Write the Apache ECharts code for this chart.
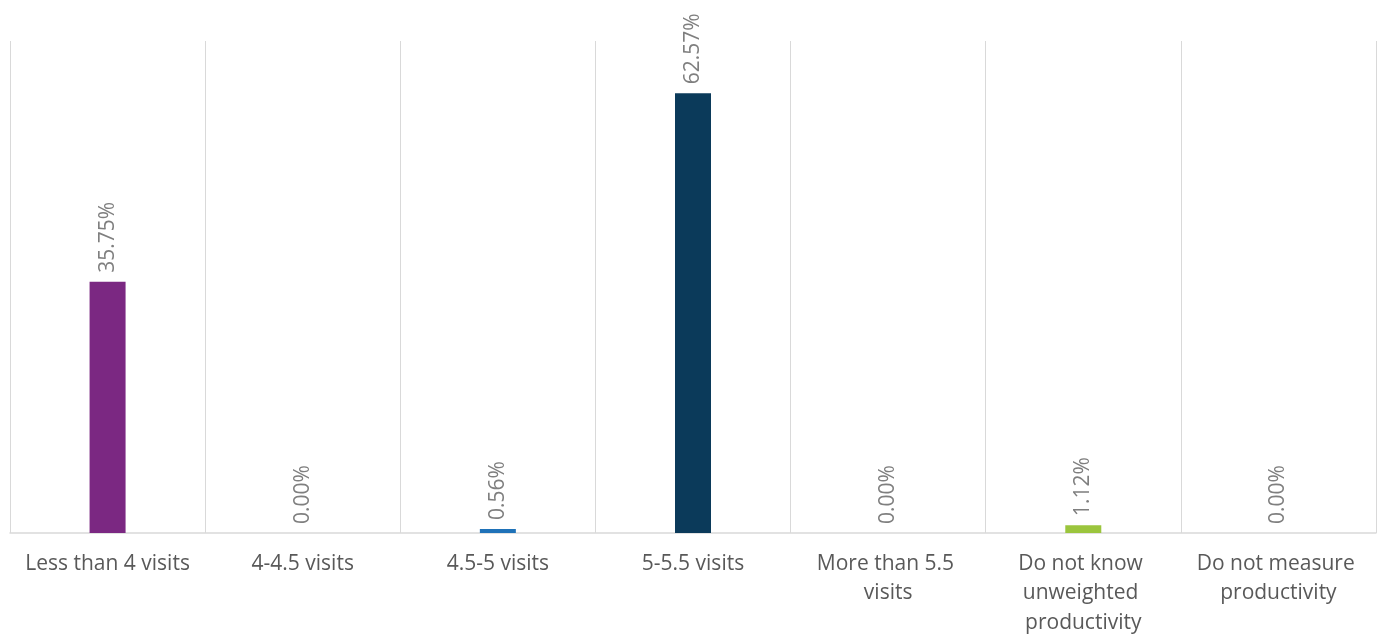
<!DOCTYPE html>
<html>
<head>
<meta charset="utf-8">
<script src="https://cdn.jsdelivr.net/npm/echarts@6/dist/echarts.min.js"></script>
<style>
html,body{margin:0;padding:0;background:#fff;}
#chart{width:1382px;height:634px;}
</style>
</head>
<body>
<div id="chart"></div>
<script>
const categories = ["Less than 4 visits", "4-4.5 visits", "4.5-5 visits", "5-5.5 visits", "More than 5.5 visits", "Do not know unweighted productivity", "Do not measure productivity"];
const values = [35.75, 0.00, 0.56, 62.57, 0.00, 1.12, 0.00];
const barColors = ["#7b2882", "#7b2882", "#1f72b8", "#0b3a5a", "#0b3a5a", "#9bc53d", "#9bc53d"];

const chart = echarts.init(document.getElementById('chart'));
chart.setOption({
  animation: false,
  textStyle: { fontFamily: 'Open Sans' },
  grid: { left: 10, right: 6, top: 41, bottom: 101, containLabel: false, outerBoundsMode: 'none' },
  xAxis: {
    type: 'category',
    data: categories,
    boundaryGap: true,
    axisLine: { lineStyle: { color: '#d9d9d9', width: 1.5 } },
    axisTick: { show: false },
    splitLine: { show: true, lineStyle: { color: '#d9d9d9', width: 1 } },
    axisLabel: {
      interval: 0,
      color: '#595959',
      fontSize: 21,
      fontFamily: 'Open Sans',
      lineHeight: 29.5,
      margin: 16,
      width: 180,
      overflow: 'break'
    }
  },
  yAxis: {
    type: 'value',
    min: 0,
    max: 70,
    show: false,
    splitLine: { show: false }
  },
  series: [{
    type: 'bar',
    data: values.map((v, i) => ({ value: v, itemStyle: { color: barColors[i] } })),
    barWidth: 36,
    label: {
      show: true,
      position: 'top',
      rotate: 90,
      align: 'left',
      verticalAlign: 'middle',
      distance: 9,
      color: '#7f7f7f',
      fontSize: 21,
      fontFamily: 'Open Sans',
      formatter: p => p.value.toFixed(2) + '%'
    }
  }]
});
</script>
</body>
</html>
